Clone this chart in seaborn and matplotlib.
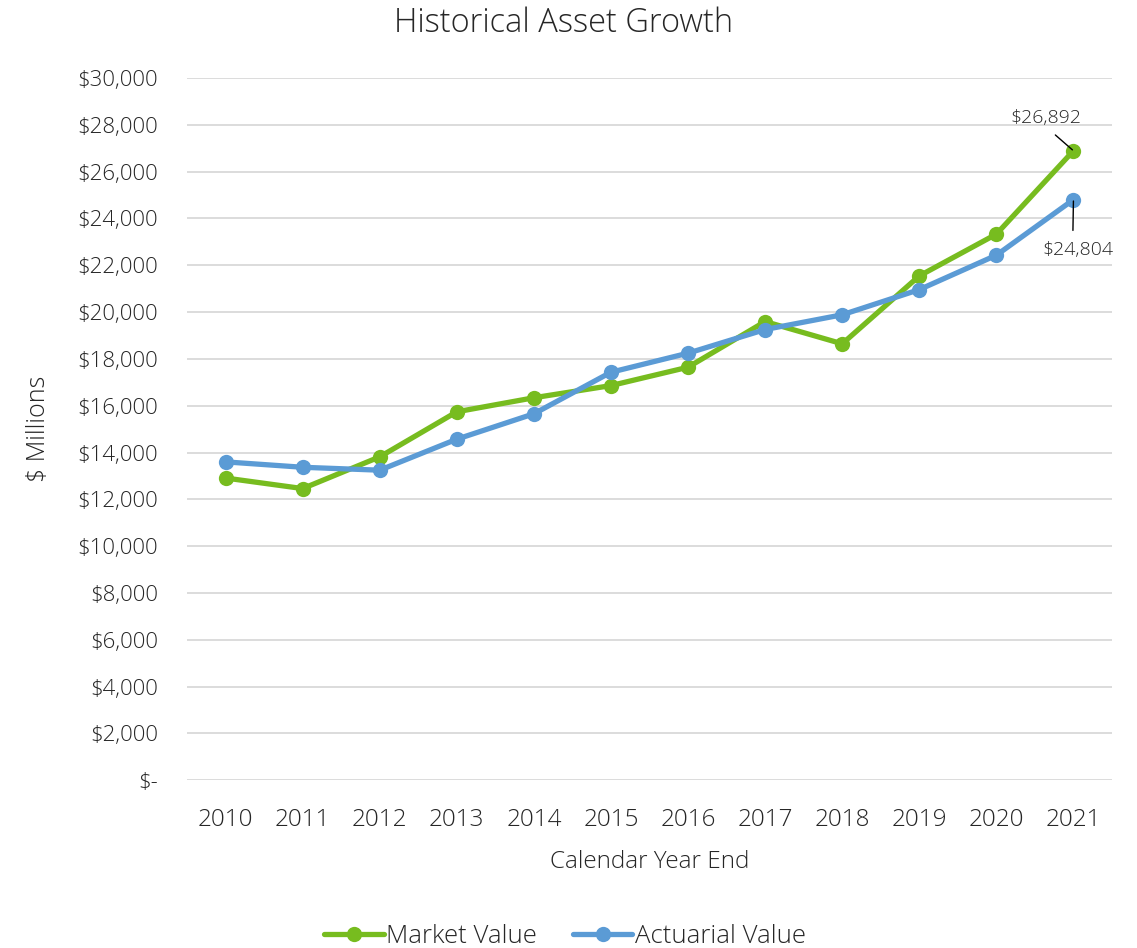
import matplotlib
matplotlib.use("Agg")
import matplotlib.pyplot as plt
import seaborn as sns
import pandas as pd
import numpy as np
from matplotlib.ticker import FuncFormatter
from matplotlib.lines import Line2D

years = ["2010", "2011", "2012", "2013", "2014", "2015", "2016", "2017", "2018", "2019", "2020", "2021"]
market_value = [12910, 12460, 13815, 15740, 16340, 16860, 17645, 19595, 18645, 21545, 23330, 26892]
actuarial_value = [13600, 13370, 13245, 14570, 15655, 17430, 18245, 19255, 19885, 20960, 22430, 24804]
series_names = ["Market Value", "Actuarial Value"]
colors = ["#77BC1F", "#5B9BD5"]

df = pd.DataFrame({
    "pos": list(range(len(years))) * 2,
    "value": market_value + actuarial_value,
    "series": [series_names[0]] * len(years) + [series_names[1]] * len(years),
})

sns.set_theme(style="white")
plt.rcParams["font.family"] = ["Open Sans", "DejaVu Sans"]
plt.rcParams["font.weight"] = "light"
text_color = "#262626"

fig = plt.figure(figsize=(11.37, 9.48), dpi=100)
ax = fig.add_axes([0.1645, 0.177, 0.978 - 0.1645, 0.9177 - 0.177])

sns.lineplot(data=df, x="pos", y="value", hue="series", palette=colors,
             marker="o", markersize=11, markeredgewidth=0, linewidth=3.8,
             ax=ax, legend=False)

ax.set_xlim(-0.5, len(years) - 0.5)
ax.set_ylim(0, 30000)
ax.set_yticks(np.arange(0, 30001, 2000))
ax.yaxis.set_major_formatter(FuncFormatter(lambda v, p: "$-" if v == 0 else f"${v:,.0f}"))
ax.set_xticks(range(len(years)))
ax.set_xticklabels(years)
ax.tick_params(axis="both", length=0, colors=text_color)
ax.tick_params(axis="y", pad=21, labelsize=16)
ax.tick_params(axis="x", pad=20, labelsize=17.5)
for lab in ax.get_xticklabels() + ax.get_yticklabels():
    lab.set_fontweight("light")
ax.grid(axis="y", color="#D9D9D9", linewidth=1.3)
ax.set_axisbelow(True)
for s in ["top", "right", "left", "bottom"]:
    ax.spines[s].set_visible(False)

ax.set_xlabel("Calendar Year End", fontsize=17.5, color=text_color, labelpad=13, fontweight="light")
ax.set_ylabel("$ Millions", fontsize=18, color=text_color, labelpad=19, fontweight="light")
fig.text(0.4955, 0.975, "Historical Asset Growth", ha="center", va="center",
         fontsize=23.5, color=text_color, fontweight="light")

last = len(years) - 1
ax.annotate(f"${market_value[-1]:,}", xy=(last, market_value[-1]),
            xytext=(-19.5, 23.5), textcoords="offset points", ha="center", va="center",
            fontsize=14, color=text_color, fontweight="light",
            arrowprops=dict(arrowstyle="-", color="black", lw=1, shrinkA=5, shrinkB=1,
                            relpos=(0.5, 0.0)))
ax.annotate(f"${actuarial_value[-1]:,}", xy=(last, actuarial_value[-1]),
            xytext=(3.6, -36), textcoords="offset points", ha="center", va="center",
            fontsize=14, color=text_color, fontweight="light",
            arrowprops=dict(arrowstyle="-", color="black", lw=1, shrinkA=5, shrinkB=1,
                            relpos=(0.42, 1.0)))

handles = [Line2D([0], [0], color=c, lw=3.8, marker="o", markersize=11, markeredgewidth=0) for c in colors]
leg = fig.legend(handles, series_names, loc="center", bbox_to_anchor=(0.497, 0.012),
                 ncol=2, frameon=False, fontsize=18.5, handlelength=2.3,
                 handletextpad=0.1, columnspacing=1.4)
for t in leg.get_texts():
    t.set_color(text_color)
    t.set_fontweight("light")

fig.savefig("out.png", dpi=100)
